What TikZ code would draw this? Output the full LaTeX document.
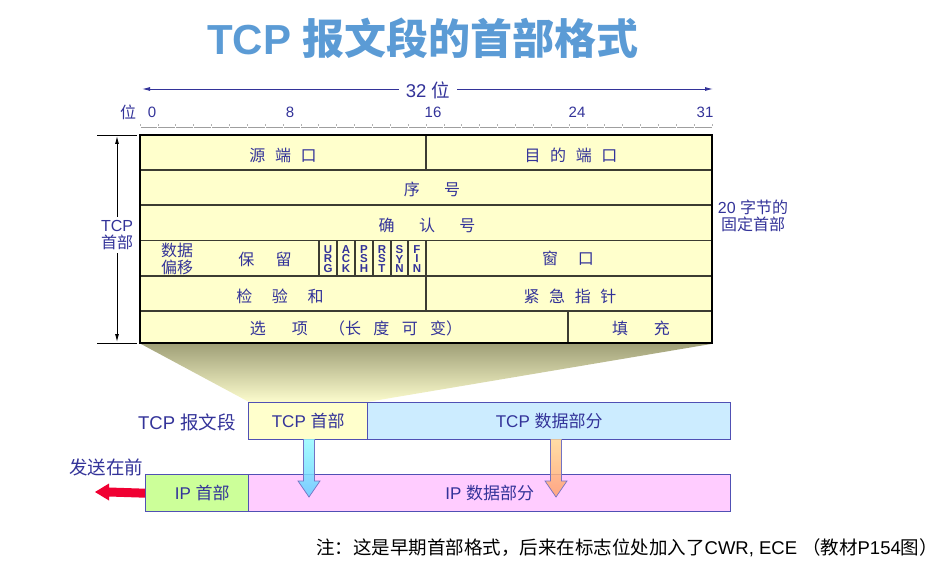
\documentclass[tikz,border=0pt]{standalone}
\usepackage{fontspec}
\setmainfont{Liberation Sans}
\newfontfamily\cjk{Noto Sans CJK SC}
\usetikzlibrary{arrows.meta,calc}
\definecolor{txt}{RGB}{51,51,153}
\definecolor{ttl}{RGB}{91,155,213}
\definecolor{tabfill}{RGB}{255,255,204}
\definecolor{tabline}{RGB}{60,60,50}
\definecolor{boxline}{RGB}{80,80,180}
\definecolor{datafill}{RGB}{204,236,255}
\definecolor{ipfill}{RGB}{204,255,153}
\definecolor{ipdata}{RGB}{255,204,255}
\definecolor{funtop}{RGB}{160,160,120}
\definecolor{funbot}{RGB}{252,252,205}
\definecolor{redarr}{RGB}{240,0,50}
\newcommand\gp[1][0.6em]{\hspace{#1}}
\begin{document}
\begin{tikzpicture}[x=1pt,y=-1pt,
  every node/.style={text=txt, inner sep=0pt},
  zh/.style={font=\cjk\fontsize{16}{18}\selectfont},
  lat/.style={font=\fontsize{15}{17}\selectfont},
  side/.style={font=\fontsize{16}{17.5}\selectfont},
  lbl/.style={font=\fontsize{18.5}{20}\selectfont},
  flag/.style={font=\fontsize{11.5}{9.8}\selectfont\bfseries, align=center},
  segbox/.style={draw=boxline, line width=1.4, anchor=north west, minimum height=37, font=\fontsize{17}{19}\selectfont},
  tl/.style={draw=tabline, line width=1.3},
  dimarrow/.style={{Latex[length=8,width=4]}-{Latex[length=8,width=4]}},
]
\useasboundingbox (0,0) rectangle (947,572);

% title
\node[text=ttl, font=\fontsize{42}{44}\selectfont\bfseries] (title) at (423,38) {TCP {\cjk 报文段的首部格式}};

% 32 bit arrow
\coordinate (rl) at (142,89);
\coordinate (rr) at (713,89);
\draw[txt, line width=0.9, dimarrow] (rl) -- (rr);
\node[lbl, fill=white, inner xsep=7pt, inner ysep=2pt] (w32) at (428,90) {32 {\cjk 位}};

% bit labels
\node[zh] (bw) at (128,112) {位};
\node[lat] (b0) at (152,112) {0};
\node[lat] (b8) at (290,112) {8};
\node[lat] (b16) at (433,112) {16};
\node[lat] (b24) at (577,112) {24};
\node[lat] (b31) at (705,112) {31};

% ruler
\draw[gray!75, line width=1.3] (140,127.5) -- (712,127.5);
\foreach \i in {0,...,32} \draw[white, line width=0.8] ({140+17.875*\i},126.6) -- ++(0,1.8);
\foreach \i in {0,...,32} \draw[gray!60, line width=0.6] ({140+17.875*\i},124.5) -- ++(0,2);

% funnel
\shade[top color=funtop, bottom color=funbot] (141,344) -- (711,344) -- (367,402) -- (249,402) -- cycle;

% table
\fill[tabfill] (140,135) rectangle (712,343);
\foreach \y in {170,205,240.5,276,311} \draw[tl] (140,\y) -- (712,\y);
\draw[tl] (426,135) -- (426,170);
\draw[tl] (426,240.5) -- (426,311);
\foreach \x in {319,337,355,373,391,408} \draw[tl] (\x,240.5) -- (\x,276);
\draw[tl] (568,311) -- (568,343);
\draw[black, line width=2] (140,135) rectangle (712,343);

% table texts
\node[zh] (srcport) at (283,155) {源\gp 端\gp 口};
\node[zh] (dstport) at (571,155) {目\gp 的\gp 端\gp 口};
\node[zh] (seq) at (432,189) {序\gp[1.3em] 号};
\node[zh] (ack) at (427,225) {确\gp[1.3em] 认\gp[1.3em] 号};
\node[zh, align=center, font=\cjk\fontsize{16}{17}\selectfont] (doff) at (177,259) {数据\\偏移};
\node[zh] (resv) at (265,259) {保\gp[1.1em] 留};
\node[flag] (furg) at (328,259) {U\\R\\G};
\node[flag] (fack) at (346,259) {A\\C\\K};
\node[flag] (fpsh) at (364,259) {P\\S\\H};
\node[flag] (frst) at (382,259) {R\\S\\T};
\node[flag] (fsyn) at (399.5,259) {S\\Y\\N};
\node[flag] (ffin) at (417,259) {F\\I\\N};
\node[zh] (win) at (568,258) {窗\gp[1em] 口};
\node[zh] (csum) at (280,296) {检\gp[1em] 验\gp[1em] 和};
\node[zh] (urg) at (570,296) {紧\gp 急\gp 指\gp 针};
\node[zh] (opt) at (356,328) {选\gp[1.4em] 项\gp[1.1em] （长\gp[0.55em] 度\gp[0.55em] 可\gp[0.55em] 变）};
\node[zh] (pad) at (641,328) {填\gp[1.4em] 充};

% left dimension
\coordinate (lt1) at (97,135);
\coordinate (lt2) at (137,135);
\coordinate (lb1) at (97,343);
\coordinate (lb2) at (137,343);
\draw[black, line width=0.7] (lt1) -- (lt2);
\draw[black, line width=0.7] (lb1) -- (lb2);
\coordinate (la) at (117,136);
\coordinate (lb) at (117,342);
\draw[black, line width=0.9, dimarrow] (la) -- (lb);
\node[side, fill=white, align=center, inner ysep=3pt] (tcphdr) at (117,235) {TCP\\{\cjk 首部}};

% right label
\node[side, align=center] (fixed) at (753,216) {20 {\cjk 字节的}\\{\cjk 固定首部}};

% segment rows
\node[lbl] (seglbl) at (187,422) {TCP {\cjk 报文段}};
\node[segbox, fill=tabfill, minimum width=119] (th) at (248,402) {TCP {\cjk 首部}};
\node[segbox, fill=datafill, minimum width=363] (td) at (367,402) {TCP {\cjk 数据部分}};
\node[segbox, fill=ipfill, minimum width=103] (ih) at (145,474) {\hspace{10pt}IP {\cjk 首部}};
\node[segbox, fill=ipdata, minimum width=482] (idt) at (248,474) {IP {\cjk 数据部分}};
\node[lbl] (sendfirst) at (106,467) {\cjk 发送在前};

% red arrow
\fill[redarr] (ih.west) ++(0,-4.5) -- (109,487.5) -- (109,483.5) -- (95,492) -- (109,500.5) -- (109,496.5) -- ($(ih.west)+(0,4.5)$) -- cycle;

% down arrows
\begin{scope}[shift={(309,439)}]
  \shade[top color={rgb,255:red,150;green,250;blue,255}, bottom color={rgb,255:red,100;green,205;blue,255}, opacity=0.85]
    (-5.5,0) -- (5.5,0) -- (5.5,42) -- (11,42) -- (0,58) -- (-11,42) -- (-5.5,42) -- cycle;
  \draw[boxline!80, line width=0.7] (-5.5,1) -- (-5.5,42) -- (-11,42) -- (0,58) -- (11,42) -- (5.5,42) -- (5.5,1);
\end{scope}
\begin{scope}[shift={(556,439)}]
  \shade[top color={rgb,255:red,255;green,215;blue,150}, bottom color={rgb,255:red,255;green,160;blue,110}, opacity=0.85]
    (-5.5,0) -- (5.5,0) -- (5.5,42) -- (11,42) -- (0,58) -- (-11,42) -- (-5.5,42) -- cycle;
  \draw[boxline!80, line width=0.7] (-5.5,1) -- (-5.5,42) -- (-11,42) -- (0,58) -- (11,42) -- (5.5,42) -- (5.5,1);
\end{scope}

% note
\node[text=black, font=\cjk\fontsize{18.5}{21}\selectfont] (note) at (627,548) {注：这是早期首部格式，后来在标志位处加入了{\fontspec{Liberation Sans}CWR, ECE\hspace{5pt}}（教材{\fontspec{Liberation Sans}P154}图）};
\end{tikzpicture}
\end{document}
